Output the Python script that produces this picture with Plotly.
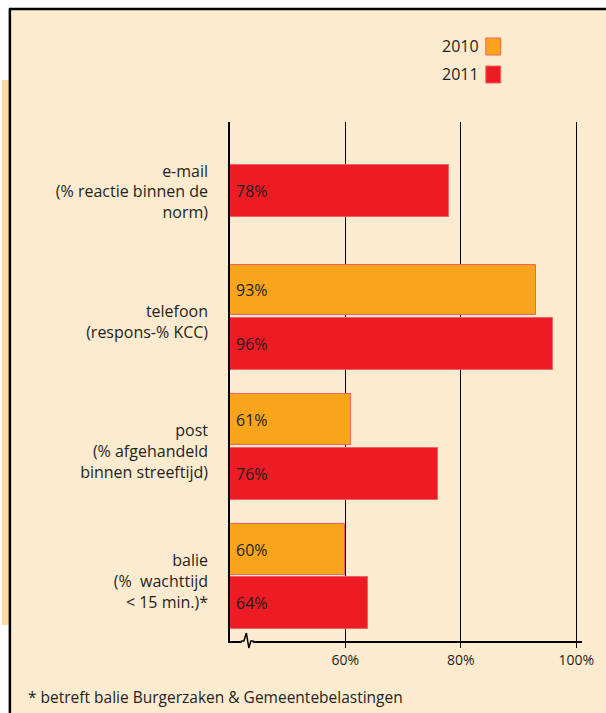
import plotly.graph_objects as go

categories = [
    "e-mail<br>(% reactie binnen de<br>norm)",
    "telefoon<br>(respons-% KCC)",
    "post<br>(% afgehandeld<br>binnen streeftijd)",
    "balie<br>(%  wachttijd<br>< 15 min.)*",
]
values_2010 = [None, 93, 61, 60]
values_2011 = [78, 96, 76, 64]
series_names = ["2010", "2011"]
tick_vals = [60, 80, 100]
tick_text = ["60%", "80%", "100%"]
footnote = "* betreft balie Burgerzaken & Gemeentebelastingen"

W, H = 606, 713
L, R, T, B = 230, 585, 122, 641
FONT = "Open Sans"
TXT = "#231f20"
ORANGE = "#f8a51c"
RED = "#ed1c24"
EDGE = "#f26060"
BG = "#fdebd0"
X0 = 40  # axis start


def px(x):
    return (x - L) / (R - L)


def py(y):
    return (B - y) / (B - T)


off_2010 = [-0.2 if v is None else -0.4 for v in values_2010]
off_2011 = [-0.17 if a is None else 0.01 for a in values_2010]

fig = go.Figure()
fig.add_trace(go.Bar(
    y=categories, x=values_2010, orientation="h", name=series_names[0],
    base=0, width=0.39, offset=off_2010,
    marker=dict(color=ORANGE, line=dict(color=EDGE, width=1)),
    showlegend=False,
))
fig.add_trace(go.Bar(
    y=categories, x=values_2011, orientation="h", name=series_names[1],
    base=0, width=0.4, offset=off_2011,
    marker=dict(color=RED, line=dict(color=EDGE, width=1)),
    showlegend=False,
))

unit = (B - T) / len(categories)  # pixels per category

annotations = []
for cat, v, off in zip(categories, values_2010, off_2010):
    if v is not None:
        annotations.append(dict(
            x=X0, y=cat, xref="x", yref="y", text=f"{v}%", showarrow=False,
            xanchor="left", yanchor="middle", xshift=4,
            yshift=-(off + 0.195) * unit,
            font=dict(family=FONT, size=16, color=TXT)))
for cat, v, off in zip(categories, values_2011, off_2011):
    if v is not None:
        annotations.append(dict(
            x=X0, y=cat, xref="x", yref="y", text=f"{v}%", showarrow=False,
            xanchor="left", yanchor="middle", xshift=4,
            yshift=-(off + 0.2) * unit,
            font=dict(family=FONT, size=16, color=TXT)))

shapes = [
    dict(type="rect", xref="paper", yref="paper", layer="below",
         x0=px(0), x1=px(7), y0=py(625), y1=py(80),
         fillcolor="#ffd9a0", line=dict(width=0)),
    dict(type="rect", xref="paper", yref="paper", layer="below",
         x0=px(8), x1=px(W + 5), y0=py(H + 5), y1=py(9),
         fillcolor=BG, line=dict(width=0)),
    dict(type="line", xref="paper", yref="paper",
         x0=px(8), x1=px(8), y0=py(H + 5), y1=py(9),
         line=dict(color="black", width=2.5)),
    dict(type="line", xref="paper", yref="paper",
         x0=px(7), x1=px(W + 5), y0=py(9), y1=py(9),
         line=dict(color="black", width=2.5)),
    dict(type="rect", xref="paper", yref="paper",
         x0=px(242), x1=px(253), y0=py(643), y1=py(639),
         fillcolor=BG, line=dict(width=0)),
    dict(type="path", xref="paper", yref="paper",
         path=f"M {px(241)},{py(641)} L {px(244)},{py(641)} L {px(246.5)},{py(633)} "
              f"L {px(249)},{py(648)} L {px(251)},{py(641)} L {px(254)},{py(641)}",
         line=dict(color="black", width=1.5)),
    dict(type="rect", xref="paper", yref="paper",
         x0=px(488), x1=px(503), y0=py(55), y1=py(38),
         fillcolor=ORANGE, line=dict(color=EDGE, width=1)),
    dict(type="rect", xref="paper", yref="paper",
         x0=px(488), x1=px(503), y0=py(83), y1=py(66),
         fillcolor=RED, line=dict(color=EDGE, width=1)),
]

annotations += [
    dict(xref="paper", yref="paper", x=px(483), y=py(46.5), xanchor="right",
         yanchor="middle", text=series_names[0], showarrow=False,
         font=dict(family=FONT, size=16, color=TXT)),
    dict(xref="paper", yref="paper", x=px(483), y=py(74.5), xanchor="right",
         yanchor="middle", text=series_names[1], showarrow=False,
         font=dict(family=FONT, size=16, color=TXT)),
    dict(xref="paper", yref="paper", x=px(24), y=py(697), xanchor="left",
         yanchor="middle", text=footnote, showarrow=False,
         font=dict(family=FONT, size=15.5, color=TXT)),
]

fig.update_layout(
    width=W, height=H,
    margin=dict(l=L, r=W - R, t=T, b=H - B, pad=0),
    paper_bgcolor="white", plot_bgcolor="rgba(0,0,0,0)",
    barmode="overlay", bargap=0,
    shapes=shapes, annotations=annotations,
    font=dict(family=FONT, size=16, color=TXT),
    xaxis=dict(range=[X0, 101], tickvals=tick_vals, ticktext=tick_text,
               showgrid=True, gridcolor="black", gridwidth=1.3,
               showline=True, linecolor="black", linewidth=1.5,
               ticks="outside", ticklen=5, tickcolor="black", tickwidth=1.3,
               zeroline=False, tickfont=dict(family=FONT, size=14, color=TXT),
               fixedrange=True),
    yaxis=dict(categoryorder="array", categoryarray=categories,
               autorange="reversed", showline=True, linecolor="black",
               linewidth=1.5, showgrid=False, ticks="", ticklabelstandoff=17,
               ticklabelshift=-5,
               tickfont=dict(family=FONT, size=16, color=TXT), fixedrange=True),
)

fig.write_html(
    "out.html",
    config={"displayModeBar": False},
    post_script="document.body.style.margin='0';document.body.style.overflow='hidden';",
)
